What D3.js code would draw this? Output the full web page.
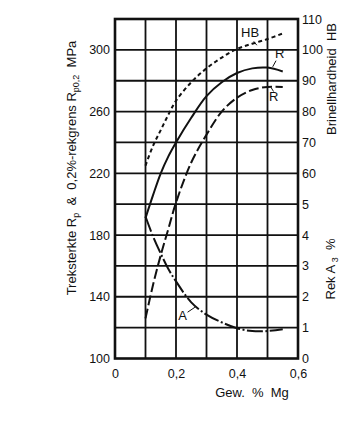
<!DOCTYPE html>
<html>
<head>
<meta charset="utf-8">
<script src="https://cdn.jsdelivr.net/npm/d3@7"></script>
<style>
  html, body { margin: 0; padding: 0; background: #fff; }
  svg { display: block; font-family: "Liberation Sans", Arial, sans-serif; }
  text { fill: #111; }
</style>
</head>
<body>
<svg id="chart" width="350" height="425"></svg>
<script>
// Magnesium content (wt.%) at which each property was measured
const mg = [0.1, 0.125, 0.15, 0.175, 0.2, 0.25, 0.3, 0.35, 0.4, 0.45, 0.5, 0.55];
// Brinell hardness HB
const hardness = [62.5, 69, 74, 79, 83.5, 89.5, 94, 97.5, 100.3, 102, 103.5, 105.3];
// Tensile strength R (MPa)
const tensile = [191, 206, 220, 231, 240, 256, 270, 279, 285, 288, 288.5, 286];
// 0.2% proof stress (MPa)
const proof = [126, 148, 167, 184, 201, 227, 245, 260, 269, 274, 276, 276];
// Elongation A3 (%)
const elongation = [4.6, 3.95, 3.4, 2.9, 2.5, 1.82, 1.42, 1.17, 0.98, 0.89, 0.89, 0.95];

const leftTicks = [100, 140, 180, 220, 260, 300];
const hbTicks = [60, 70, 80, 90, 100, 110];
const aTicks = [0, 1, 2, 3, 4, 5];
const xTicks = [0, 0.2, 0.4, 0.6];

const svg = d3.select("#chart");
const L = 115, R = 298, T = 19, B = 358.5;

const x = d3.scaleLinear([0, 0.6], [L, R]);
const y = d3.scaleLinear([100, 320], [B, T]);
// Right-hand scales share the grid: HB 60..110 over 220..320 MPa, A 0..5 over 100..200 MPa
const yHB = d3.scaleLinear([60, 110], [y(220), y(320)]);
const yA = d3.scaleLinear([0, 5], [y(100), y(200)]);

const comma = d => d3.format("")(d).replace(".", ",");

// grid
const grid = svg.append("g").attr("stroke", "#111").attr("stroke-width", 1.8);
d3.range(0.1, 0.6, 0.1).forEach(v => {
  grid.append("line").attr("x1", x(v)).attr("x2", x(v)).attr("y1", T).attr("y2", B);
});
d3.range(120, 320, 20).forEach(v => {
  grid.append("line").attr("x1", L).attr("x2", R).attr("y1", y(v)).attr("y2", y(v));
});
svg.append("rect").attr("x", L).attr("y", T).attr("width", R - L).attr("height", B - T)
  .attr("fill", "none").attr("stroke", "#111").attr("stroke-width", 2.6);

// axes
const styleAxis = g => {
  g.select(".domain").remove();
  g.selectAll("text").attr("font-size", 12.5).attr("fill", "#111")
    .attr("font-family", "Liberation Sans, Arial, sans-serif");
};
svg.append("g").attr("transform", `translate(${L},0)`)
  .call(d3.axisLeft(y).tickValues(leftTicks).tickSize(0).tickPadding(5)).call(styleAxis);
svg.append("g").attr("transform", `translate(${R},0)`)
  .call(d3.axisRight(yHB).tickValues(hbTicks).tickFormat(d3.format("d")).tickSize(0).tickPadding(4)).call(styleAxis);
svg.append("g").attr("transform", `translate(${R},0)`)
  .call(d3.axisRight(yA).tickValues(aTicks).tickFormat(d3.format("d")).tickSize(0).tickPadding(4)).call(styleAxis);
svg.append("g").attr("transform", `translate(0,${B})`)
  .call(d3.axisBottom(x).tickValues(xTicks).tickFormat(comma).tickSize(0).tickPadding(11)).call(styleAxis);

// axis titles
svg.append("text").attr("x", 252).attr("y", 397).attr("text-anchor", "middle")
  .attr("font-size", 13).style("white-space", "pre").text("Gew.  %  Mg");

const leftTitle = svg.append("text")
  .attr("transform", "translate(76,168) rotate(-90)")
  .attr("text-anchor", "middle").attr("font-size", 13).style("white-space", "pre");
leftTitle.append("tspan").text("Treksterkte R");
leftTitle.append("tspan").attr("font-size", 9).attr("dy", 3).text("p");
leftTitle.append("tspan").attr("dy", -3).text("  &  0,2%-rekgrens R");
leftTitle.append("tspan").attr("font-size", 9).attr("dy", 3).text("p0,2");
leftTitle.append("tspan").attr("dy", -3).text("  MPa");

svg.append("text").attr("transform", "translate(336,79) rotate(-90)")
  .attr("text-anchor", "middle").attr("font-size", 13).style("white-space", "pre")
  .text("Brinellhardheid  HB");

const aTitle = svg.append("text").attr("transform", "translate(335,269) rotate(-90)")
  .attr("text-anchor", "middle").attr("font-size", 13).style("white-space", "pre");
aTitle.append("tspan").text("Rek A");
aTitle.append("tspan").attr("font-size", 9).attr("dy", 3).text(" 3");
aTitle.append("tspan").attr("dy", -3).text("  %");

// curves
const line = (ys) => d3.line().x((d, i) => x(mg[i])).y(d => ys(d)).curve(d3.curveCatmullRom.alpha(0.5));
const curves = svg.append("g").attr("fill", "none").attr("stroke", "#111").attr("stroke-width", 2);
curves.append("path").attr("d", line(yHB)(hardness)).attr("stroke-dasharray", "4,3");
curves.append("path").attr("d", line(y)(tensile));
curves.append("path").attr("d", line(y)(proof)).attr("stroke-dasharray", "10,3.5");
curves.append("path").attr("d", line(yA)(elongation)).attr("stroke-dasharray", "16,2.5,2,2.5");

// curve labels with leaders
const labels = svg.append("g").attr("font-size", 13);
const leaders = svg.append("g").attr("stroke", "#111").attr("stroke-width", 1);
labels.append("text").attr("x", x(0.443)).attr("y", y(311.5) + 5).attr("text-anchor", "middle").text("HB");
leaders.append("line").attr("x1", x(0.455)).attr("y1", y(305.5)).attr("x2", x(0.465)).attr("y2", y(303));
labels.append("text").attr("x", x(0.54)).attr("y", y(298) + 5).attr("text-anchor", "middle").text("R");
leaders.append("line").attr("x1", x(0.528)).attr("y1", y(293)).attr("x2", x(0.517)).attr("y2", y(289));
labels.append("text").attr("x", x(0.52)).attr("y", y(270) + 5).attr("text-anchor", "middle").text("R");
leaders.append("line").attr("x1", x(0.512)).attr("y1", y(275.5)).attr("x2", x(0.52)).attr("y2", y(273));
labels.append("text").attr("x", x(0.222)).attr("y", yA(1.4) + 5).attr("text-anchor", "middle").text("A");
leaders.append("line").attr("x1", x(0.238)).attr("y1", yA(1.5)).attr("x2", x(0.262)).attr("y2", yA(1.66));
</script>
</body>
</html>
